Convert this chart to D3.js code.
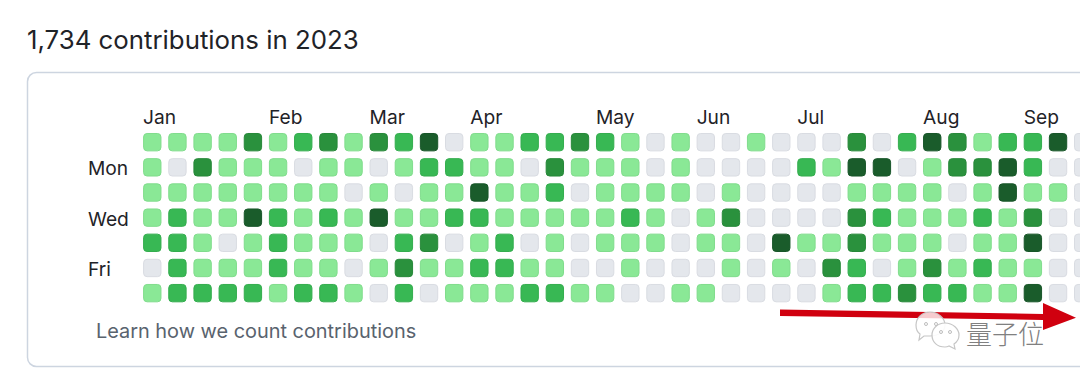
<!DOCTYPE html>
<html>
<head>
<meta charset="utf-8">
<script src="https://cdn.jsdelivr.net/npm/d3@7"></script>
<style>
html, body { margin: 0; padding: 0; background: #fff; overflow: hidden; }
svg { display: block; font-family: Inter, "Liberation Sans", sans-serif; }
</style>
</head>
<body>
<svg id="chart" width="1080" height="381"></svg>
<script>
var title = '1,734 contributions in 2023';
var footer = 'Learn how we count contributions';

var monthNames = ['Jan', 'Feb', 'Mar', 'Apr', 'May', 'Jun', 'Jul', 'Aug', 'Sep'];
var monthWeeks = [0, 5, 9, 13, 18, 22, 26, 31, 35];
var dayNames = ['Sun', 'Mon', 'Tue', 'Wed', 'Thu', 'Fri', 'Sat'];
var dayLabels = ['Mon', 'Wed', 'Fri'];

// activity level per week, one array per weekday
var sun = [1,1,1,1,3,1,2,3,1,3,2,4,0,1,1,2,2,3,2,1,0,1,0,0,1,0,0,0,3,0,2,4,3,1,2,2,4,0];
var mon = [1,0,3,1,1,1,0,1,1,0,1,2,2,1,1,0,3,1,1,1,0,1,0,0,0,0,2,1,4,4,0,1,3,3,4,2,0,0];
var tue = [1,1,1,1,1,1,1,1,0,1,0,1,1,4,1,1,2,0,1,1,1,1,0,1,0,0,0,0,1,1,1,1,0,1,4,1,1,0];
var wed = [1,2,1,1,4,2,1,2,1,4,1,1,2,2,1,1,1,1,1,2,1,0,1,3,0,0,0,0,3,2,1,1,1,2,1,3,0,0];
var thu = [2,2,1,0,1,2,1,1,1,0,2,3,0,1,2,0,1,0,1,1,1,0,1,1,0,4,1,1,3,1,1,1,0,1,1,4,0,0];
var fri = [0,2,1,1,1,2,1,1,0,1,3,1,1,2,2,1,1,0,0,1,0,0,0,1,0,1,0,3,2,0,1,3,1,2,1,1,0,0];
var sat = [1,2,2,2,2,1,2,2,1,0,2,0,1,1,1,2,2,1,1,0,0,1,1,0,0,0,0,1,2,2,3,2,2,1,1,4,0,0];
var levels = [sun, mon, tue, wed, thu, fri, sat];

var levelColors = ['#e4e7ec', '#8ae896', '#38b854', '#2a913d', '#1a5c2b'];
var levelStrokes = ['#d9dce2', '#80dc8c', '#34ad4e', '#278839', '#185629'];

var svg = d3.select('#chart');

svg.append('text')
    .attr('x', 27)
    .attr('y', 49)
    .attr('font-size', 25.8)
    .attr('fill', '#1f2328')
    .text(title);

// outer box, runs off the right edge
svg.append('rect')
    .attr('x', 27.5)
    .attr('y', 72.5)
    .attr('width', 1100)
    .attr('height', 294)
    .attr('rx', 9)
    .attr('fill', 'none')
    .attr('stroke', '#cdd5e0')
    .attr('stroke-width', 1.5);

var pitch = 25.16;
var x = d3.scaleBand()
    .domain(d3.range(sun.length))
    .range([139.7, 139.7 + pitch * sun.length])
    .paddingInner(0.27)
    .paddingOuter(0.135);

var y = d3.scaleBand()
    .domain(dayNames)
    .range([129.6, 129.6 + pitch * 7])
    .paddingInner(0.27)
    .paddingOuter(0.135);

var color = d3.scaleOrdinal().domain(d3.range(5)).range(levelColors);
var stroke = d3.scaleOrdinal().domain(d3.range(5)).range(levelStrokes);

var cells = [];
levels.forEach(function(row, d) {
    row.forEach(function(v, w) {
        cells.push({ week: w, day: dayNames[d], level: v });
    });
});

svg.append('g').selectAll('rect')
    .data(cells)
    .enter().append('rect')
    .attr('x', function(d) { return x(d.week) + 0.5; })
    .attr('y', function(d) { return y(d.day) + 0.5; })
    .attr('width', x.bandwidth() - 1)
    .attr('height', y.bandwidth() - 1)
    .attr('rx', 3.5)
    .attr('fill', function(d) { return color(d.level); })
    .attr('stroke', function(d) { return stroke(d.level); })
    .attr('stroke-width', 1);

// month labels
var monthAxis = d3.axisTop(x)
    .tickValues(monthWeeks)
    .tickFormat(function(d, i) { return monthNames[i]; })
    .tickSize(0);

var gMonth = svg.append('g')
    .attr('transform', 'translate(0,124)')
    .call(monthAxis);
gMonth.select('.domain').remove();
gMonth.selectAll('text')
    .attr('x', -x.bandwidth() / 2)
    .attr('y', 0)
    .attr('text-anchor', 'start')
    .attr('font-family', 'Inter, "Liberation Sans", sans-serif')
    .attr('font-size', 19.2)
    .attr('fill', '#1f2328');

// weekday labels
var dayAxis = d3.axisLeft(y)
    .tickValues(dayLabels)
    .tickSize(0);

var gDay = svg.append('g')
    .attr('transform', 'translate(88,1.8)')
    .call(dayAxis);
gDay.select('.domain').remove();
gDay.selectAll('text')
    .attr('x', 0)
    .attr('text-anchor', 'start')
    .attr('font-family', 'Inter, "Liberation Sans", sans-serif')
    .attr('font-size', 19.2)
    .attr('fill', '#1f2328');

svg.append('text')
    .attr('x', 96)
    .attr('y', 338)
    .attr('font-size', 19.9)
    .attr('fill', '#59636e')
    .text(footer);

// red arrow drawn over the screenshot
svg.append('path')
    .attr('d', 'M780,309.5 L1043,314 L1043,303 L1076,317.7 L1043,330 L1043,320 L780,316 Z')
    .attr('fill', '#d0000f');

// watermark
var mark = svg.append('g');
mark.append('path')
    .attr('d', 'M930,312 C938,312 945,318 945,325 C945,332 938,336 930,336 C928,336 926,336 924,336 L919,340 L920,334 C917,332 916,329 916,325 C916,318 922,312 930,312 Z')
    .attr('fill', 'rgba(255,255,255,0.8)')
    .attr('stroke', '#c6c6c6')
    .attr('stroke-width', 1.2);
mark.append('path')
    .attr('d', 'M945,323 C953,323 959,329 959,335 C959,339 957,342 954,344 L955,349 L949,346 C947,347 946,347 945,347 C937,347 932,342 932,335 C932,329 937,323 945,323 Z')
    .attr('fill', 'rgba(255,255,255,0.9)')
    .attr('stroke', '#c6c6c6')
    .attr('stroke-width', 1.2);
mark.selectAll('circle')
    .data([[926, 324], [936, 324], [941, 332], [950, 332]])
    .enter().append('circle')
    .attr('cx', function(d) { return d[0]; })
    .attr('cy', function(d) { return d[1]; })
    .attr('r', 1.5)
    .attr('fill', 'none')
    .attr('stroke', '#bdbdbd');
mark.append('text')
    .attr('x', 966)
    .attr('y', 344)
    .attr('font-family', '"Noto Sans CJK SC", sans-serif')
    .attr('font-size', 26)
    .attr('font-weight', 300)
    .attr('fill', '#808080')
    .text('量子位');
</script>
</body>
</html>
